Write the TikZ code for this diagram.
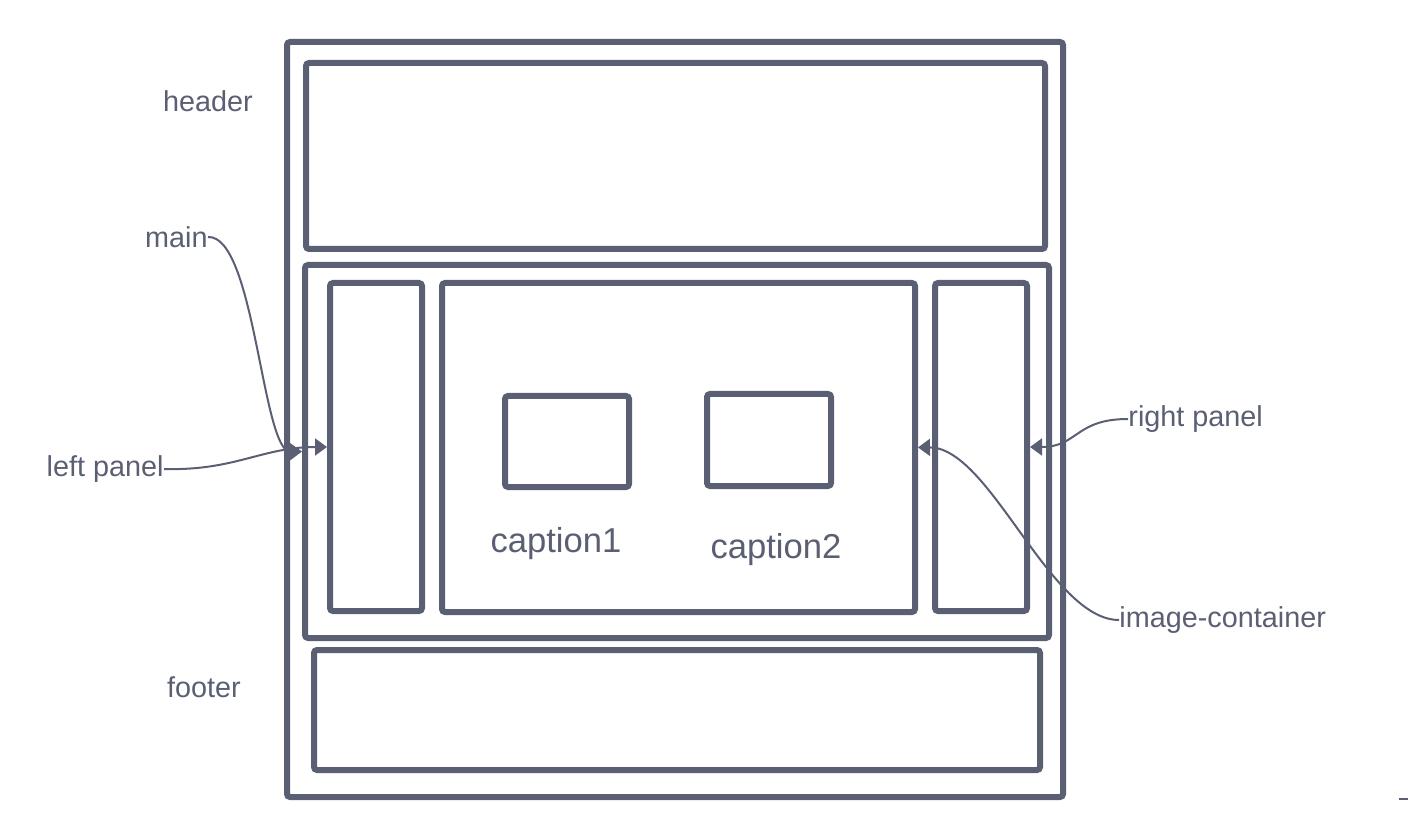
\documentclass[tikz,border=0pt]{standalone}
\usepackage{fontspec}
\setmainfont{Liberation Sans}
\usetikzlibrary{arrows.meta}
\definecolor{ink}{RGB}{91,95,115}
\begin{document}
\begin{tikzpicture}[x=0.5pt,y=-0.5pt,
  box/.style={draw=ink,line width=3pt,rounded corners=1.5pt,inner sep=0pt,outer sep=0pt,rectangle},
  lbl/.style={text=ink,font=\fontsize{14.4pt}{16pt}\selectfont,inner sep=0pt},
  captxt/.style={text=ink,font=\fontsize{17.3pt}{19pt}\selectfont,inner sep=0pt},
  conn/.style={draw=ink,line width=1pt,-{Triangle[length=6pt,width=8.5pt]},shorten >=1.5pt}]
\useasboundingbox (0,0) rectangle (1408,823);
% boxes
\node[box,minimum width=388pt,minimum height=377.5pt] (outer) at (675,419.5) {};
\node[box,minimum width=369.5pt,minimum height=93pt] (header) at (675.5,156) {};
\node[box,minimum width=372pt,minimum height=186.5pt] (mainbox) at (677,451.5) {};
\node[box,minimum width=46pt,minimum height=164pt] (lp) at (376,447) {};
\node[box,minimum width=236.5pt,minimum height=164.5pt] (ic) at (678.5,447.5) {};
\node[box,minimum width=46pt,minimum height=164pt] (rp) at (981,447) {};
\node[box,minimum width=62pt,minimum height=45.5pt] (img1) at (567,441.5) {};
\node[box,minimum width=62pt,minimum height=46pt] (img2) at (769,440) {};
\node[box,minimum width=363pt,minimum height=60pt] (footer) at (677,710) {};
% labels
\node[lbl] (lheader) at (208,101) {header};
\node[lbl,anchor=east] (lmain) at (208,237) {main};
\node[lbl,anchor=east] (llp) at (164,469) {left panel};
\node[lbl] (lfooter) at (204,687) {footer};
\node[lbl,anchor=west] (lrp) at (1128,419) {right panel};
\node[lbl,anchor=west] (lic) at (1119,620) {image-container};
\node[captxt] (cap1) at (556,544) {caption1};
\node[captxt] (cap2) at (776,550) {caption2};
% connectors
\draw[conn] (lmain.east) .. controls (255,235) and (262,452) .. (mainbox.west);
\draw[conn] (llp.east) .. controls (235,471) and (262,447) .. (lp.west);
\draw[conn] (lrp.west) .. controls (1075,419) and (1078,447) .. (rp.east);
\draw[conn] (lic.west) .. controls (1050,620) and (990,447) .. (ic.east);
% small mark
\coordinate (m1) at (1399,799);
\coordinate (m2) at (1408,799);
\draw[ink,line width=1pt] (m1) -- (m2);
\end{tikzpicture}
\end{document}
